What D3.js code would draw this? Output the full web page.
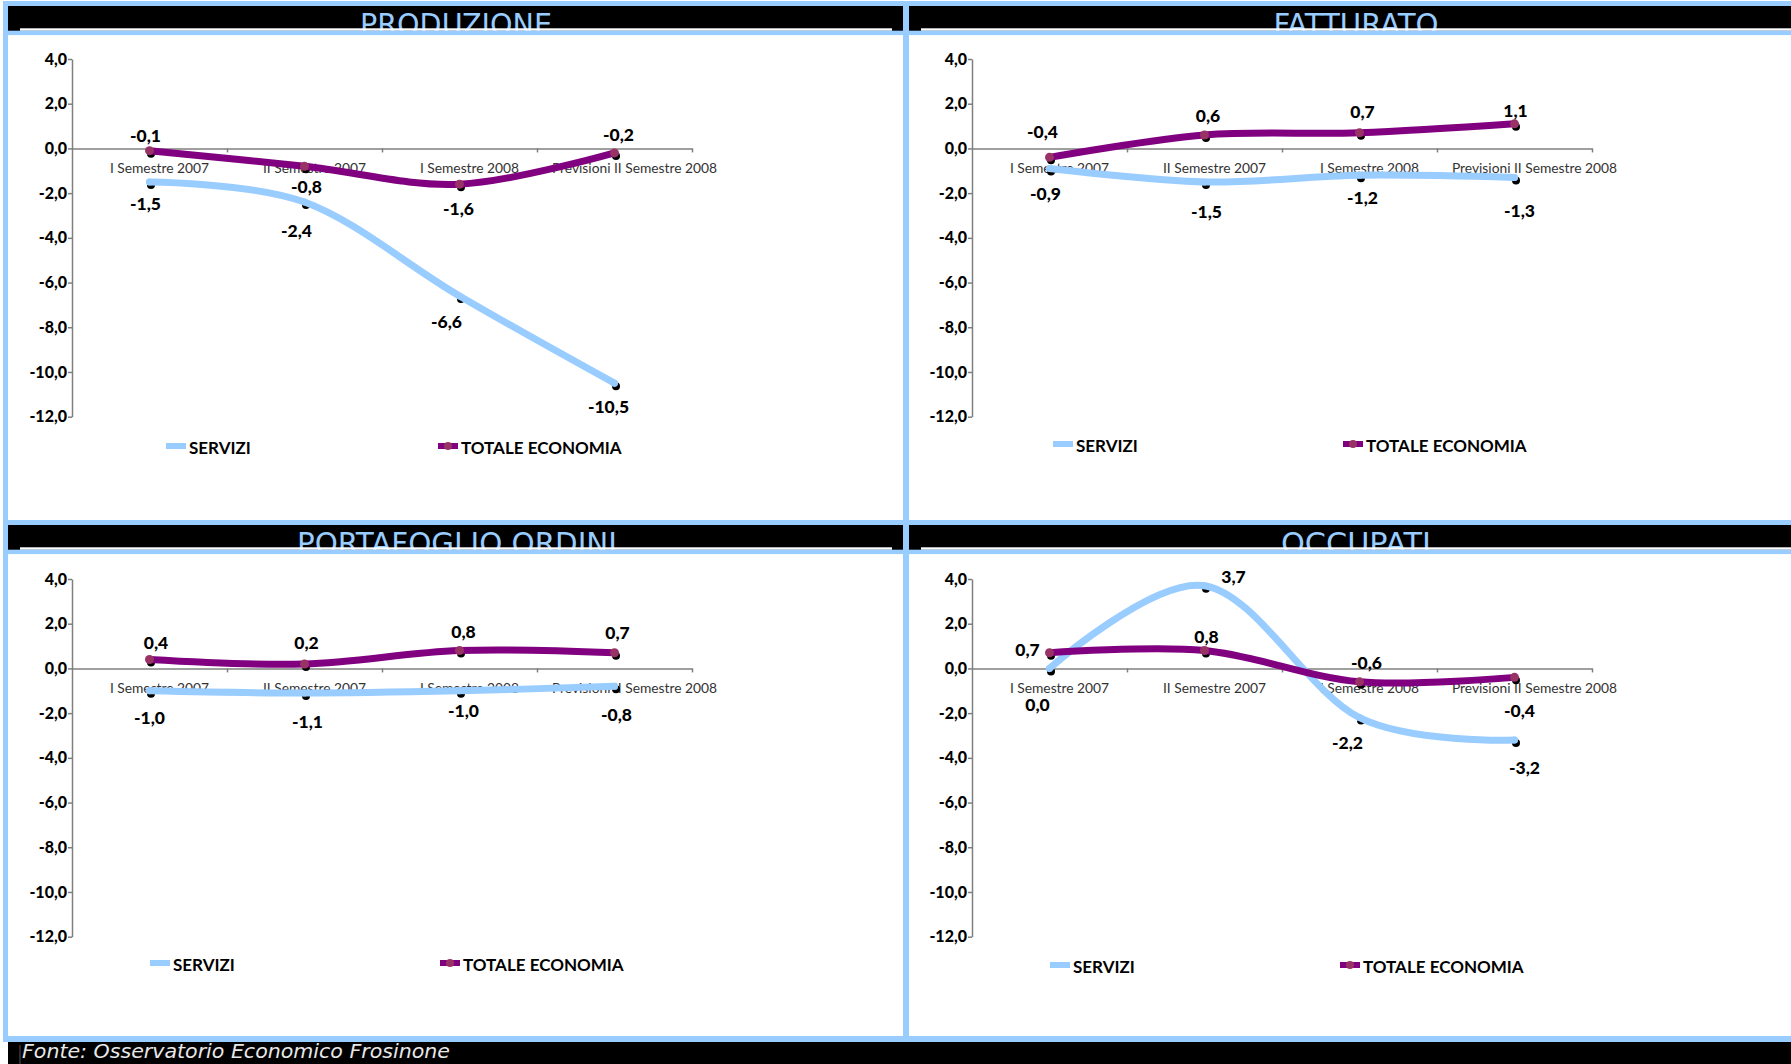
<!DOCTYPE html>
<html><head><meta charset="utf-8">
<script src="https://cdn.jsdelivr.net/npm/d3@7"></script>
<style>body{margin:0;background:#fff;overflow:hidden} svg{display:block}</style>
</head><body>
<svg id="chart" width="1791" height="1064"></svg>
<script>
// ---------- DATA ----------
const categories = ["I Semestre 2007", "II Semestre 2007", "I Semestre 2008", "Previsioni II Semestre 2008"];
const panelTitles = ["PRODUZIONE", "FATTURATO", "PORTAFOGLIO ORDINI", "OCCUPATI"];
const seriesNames = ["SERVIZI", "TOTALE ECONOMIA"];
const serviziValues = [
  [-1.5, -2.4, -6.6, -10.5],
  [-0.9, -1.5, -1.2, -1.3],
  [-1.0, -1.1, -1.0, -0.8],
  [0.0, 3.7, -2.2, -3.2]
];
const totaleValues = [
  [-0.1, -0.8, -1.6, -0.2],
  [-0.4, 0.6, 0.7, 1.1],
  [0.4, 0.2, 0.8, 0.7],
  [0.7, 0.8, -0.6, -0.4]
];
const yTicks = [4, 2, 0, -2, -4, -6, -8, -10, -12];
const sourceNote = "Fonte: Osservatorio Economico Frosinone";

// ---------- LAYOUT / STYLE ----------
const LB = "#99CCFF", PURPLE = "#800080", MARK = "#993366", AXIS = "#7f7f7f";
const panelOffsets = [[0, 0], [900, 0], [0, 520], [900, 520]];
const titleCenters = [456, 456, 457, 456];
const titleWidths = [192, 165, 320, 150];
const legendPos = [[166, 446, 438], [153, 444, 443], [150, 443, 440], [150, 445, 440]];
const catLabelShift = [10, 10, 10, 20];
const labelOffsets = [
  { s: [[-4, 22], [-8, 28], [-13, 26], [-6, 23]], t: [[-4, -15], [2, 20], [-1, 24], [4, -18]] },
  { s: [[-4, 25], [2, 30], [3, 22], [5, 33]], t: [[-7, -26], [3.5, -20], [3, -21], [1, -13]] },
  { s: [[0, 27], [3, 28], [4, 20], [2, 28]], t: [[6.5, -17], [2, -21], [4, -19], [3, -20]] },
  { s: [[-12, 36], [29, -9], [-12, 25], [10, 28]], t: [[-22, -3], [2, -14], [7, -19], [5, 33]] }
];

const locale = d3.formatLocale({ decimal: ",", thousands: ".", grouping: [3], currency: ["", "€"], minus: "-" });
const fmt = locale.format(".1f");

const svg = d3.select("#chart");
svg.append("rect").attr("width", 1791).attr("height", 1064).attr("fill", "#fff");

const x = d3.scaleBand().domain(categories).range([72, 692]);
const xEdge = d3.scaleLinear().domain([0, categories.length]).range([72, 692]);
const y = d3.scaleLinear().domain([-12, 4]).range([416.7, 59]);
const cx = c => x(c) + x.bandwidth() / 2;

const line = d3.line().x(d => cx(d.c)).y(d => y(d.v)).curve(d3.curveCardinal.tension(0));

const valueFont = "Lato, 'Open Sans', sans-serif";

panelTitles.forEach((title, p) => {
  const [ox, oy] = panelOffsets[p];
  const g = svg.append("g").attr("transform", `translate(${ox},${oy})`);

  // y axis
  const ya = g.append("g").attr("transform", `translate(72,0)`)
    .call(d3.axisLeft(y).tickValues(yTicks).tickSize(4).tickSizeOuter(0).tickPadding(1).tickFormat(fmt));
  ya.selectAll("path,line").attr("stroke", AXIS).attr("stroke-width", 1.5);
  ya.selectAll("text").attr("font-family", valueFont).attr("font-weight", 900)
    .attr("font-size", 16).attr("fill", "#000");

  // x axis at zero
  const xa = g.append("g").attr("transform", `translate(0,${y(0)})`)
    .call(d3.axisBottom(xEdge).tickValues(d3.range(1, categories.length + 1)).tickSize(4).tickSizeOuter(0).tickFormat(""));
  xa.selectAll("path,line").attr("stroke", AXIS).attr("stroke-width", 1.5);

  g.selectAll(".cat").data(categories).enter().append("text")
    .attr("x", (d, i) => cx(d) + catLabelShift[i]).attr("y", y(0) + 19)
    .attr("text-anchor", "middle").attr("dominant-baseline", "central")
    .attr("font-family", "Lato, 'Open Sans', sans-serif").attr("font-size", 13.8).attr("fill", "#333")
    .text(d => d);

  const series = [
    { name: seriesNames[0], vals: serviziValues[p], color: LB, mark: LB, r: 3.5, offs: labelOffsets[p].s },
    { name: seriesNames[1], vals: totaleValues[p], color: PURPLE, mark: MARK, r: 4.5, offs: labelOffsets[p].t }
  ];
  const pts = s => s.vals.map((v, i) => ({ c: categories[i], v, i }));

  // black marker shadows
  series.forEach(s => {
    g.selectAll(null).data(pts(s)).enter().append("circle")
      .attr("cx", d => cx(d.c) + 1.5).attr("cy", d => y(d.v) + 3).attr("r", 4).attr("fill", "#000");
  });
  // lines
  series.forEach(s => {
    g.append("path").datum(pts(s)).attr("d", line).attr("fill", "none")
      .attr("stroke", s.color).attr("stroke-width", 7).attr("stroke-linecap", "round").attr("stroke-linejoin", "round");
  });
  // markers
  series.forEach(s => {
    g.selectAll(null).data(pts(s)).enter().append("circle")
      .attr("cx", d => cx(d.c)).attr("cy", d => y(d.v)).attr("r", s.r).attr("fill", s.mark);
  });
  // value labels
  series.forEach(s => {
    g.selectAll(null).data(pts(s)).enter().append("text")
      .attr("x", d => cx(d.c) + s.offs[d.i][0]).attr("y", d => y(d.v) + s.offs[d.i][1])
      .attr("text-anchor", "middle").attr("dominant-baseline", "central")
      .attr("font-family", valueFont).attr("font-weight", 900).attr("font-size", 17.5).attr("fill", "#000")
      .text(d => fmt(d.v));
  });

  // legend
  const [lx1, ly, lx2] = legendPos[p];
  [[lx1, series[0]], [lx2, series[1]]].forEach(([lx, s], k) => {
    g.append("line").attr("x1", lx).attr("x2", lx + 20).attr("y1", ly).attr("y2", ly)
      .attr("stroke", s.color).attr("stroke-width", 6);
    if (k === 1) g.append("circle").attr("cx", lx + 10).attr("cy", ly).attr("r", 4).attr("fill", MARK);
    g.append("text").attr("x", lx + 23).attr("y", ly + 1).attr("dominant-baseline", "central")
      .attr("font-family", valueFont).attr("font-weight", "bold").attr("font-size", 17).attr("fill", "#000")
      .text(s.name);
  });
});

// ---------- FRAME / HEADERS ----------
const frame = svg.append("g");
[0, 519].forEach((dy, row) => {
  frame.append("rect").attr("x", 3).attr("y", 1 + dy).attr("width", 1788).attr("height", 5).attr("fill", LB);
  frame.append("rect").attr("x", 8).attr("y", 6 + dy).attr("width", 895).attr("height", 25).attr("fill", "#000");
  frame.append("rect").attr("x", 909).attr("y", 6 + dy).attr("width", 882).attr("height", 25).attr("fill", "#000");
  [0, 1].forEach(col => {
    const p = row * 2 + col;
    frame.append("text").attr("x", titleCenters[p] + col * 900).attr("y", 35 + dy)
      .attr("text-anchor", "middle").attr("font-family", "'DejaVu Sans Condensed', 'DejaVu Sans', sans-serif")
      .attr("font-stretch", "condensed").attr("font-size", 30).attr("fill", LB)
      .attr("textLength", titleWidths[p]).attr("lengthAdjust", "spacingAndGlyphs")
      .text(panelTitles[p]);
  });
  frame.append("rect").attr("x", 20).attr("y", 28.3 + dy).attr("width", 872).attr("height", 2.5).attr("fill", "#fff");
  frame.append("rect").attr("x", 921).attr("y", 28.3 + dy).attr("width", 870).attr("height", 2.5).attr("fill", "#fff");
  frame.append("rect").attr("x", 3).attr("y", 30.7 + dy).attr("width", 1788).attr("height", 4.6).attr("fill", LB);
  // cover title overflow below band
  frame.append("rect").attr("x", 8).attr("y", 35.3 + dy).attr("width", 1783).attr("height", 8).attr("fill", "#fff");
});
frame.append("rect").attr("x", 3).attr("y", 1036).attr("width", 1788).attr("height", 6).attr("fill", LB);
frame.append("rect").attr("x", 3).attr("y", 1).attr("width", 5).attr("height", 1041).attr("fill", LB);
frame.append("rect").attr("x", 903).attr("y", 1).attr("width", 6).attr("height", 1035).attr("fill", LB);

// footer
frame.append("rect").attr("x", 8).attr("y", 1042).attr("width", 1783).attr("height", 22).attr("fill", "#000");
frame.append("line").attr("x1", 20).attr("x2", 20).attr("y1", 1045).attr("y2", 1064).attr("stroke", "#555").attr("stroke-width", 1);
frame.append("text").attr("x", 22).attr("y", 1058)
  .attr("font-family", "'DejaVu Sans Condensed', 'DejaVu Sans', sans-serif").attr("font-style", "italic")
  .attr("font-size", 19).attr("fill", "#e8e8e8")
  .attr("textLength", 428).attr("lengthAdjust", "spacingAndGlyphs")
  .text(sourceNote);
</script>
</body></html>
